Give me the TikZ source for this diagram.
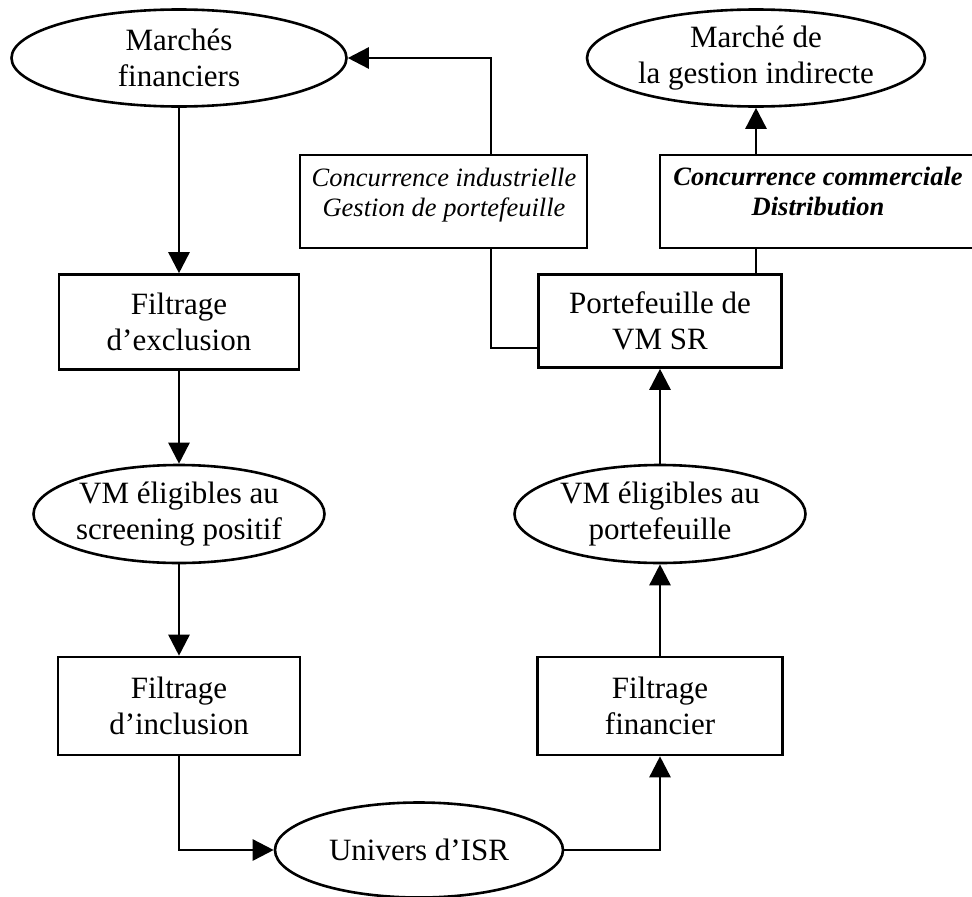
\documentclass[tikz,border=0pt]{standalone}
\usepackage{fontspec}
\setmainfont{Liberation Serif}
\usetikzlibrary{shapes.geometric,arrows.meta,calc}
\begin{document}
\begin{tikzpicture}[x=1pt,y=-1pt,
  ln/.style={line width=2.6pt},
  arr/.style={ln,-{Triangle[length=21pt,width=21pt]}},
  ell/.style={ellipse,draw,ln,inner sep=0pt,align=center,font=\fontsize{31}{36}\selectfont},
  box/.style={rectangle,draw,ln,inner sep=0pt,align=center,font=\fontsize{31}{36}\selectfont},
  itxt/.style={align=center,inner sep=0pt,font=\fontsize{26.5}{30}\selectfont\itshape},
  bitxt/.style={align=center,inner sep=0pt,font=\fontsize{26.5}{30}\selectfont\bfseries\itshape},
]
\useasboundingbox (0,0) rectangle (972,897);
\clip (0,0) rectangle (972,897);

\node[ell,minimum width=335,minimum height=97] (mf) at (179,58) {Marchés\\financiers};
\node[ell,minimum width=338,minimum height=97] (mgi) at (756,58) {Marché de\\la gestion indirecte};
\node[box,minimum width=240,minimum height=95] (fe) at (179,322) {Filtrage\\d’exclusion};
\node[ell,minimum width=290,minimum height=98] (vsp) at (179,514) {VM éligibles au\\screening positif};
\node[box,minimum width=242,minimum height=98] (fi) at (179,706) {Filtrage\\d’inclusion};
\node[ell,minimum width=288,minimum height=95] (uisr) at (419,850) {Univers d’ISR};
\node[box,minimum width=245,minimum height=98] (ff) at (660,706) {Filtrage\\financier};
\node[ell,minimum width=291,minimum height=98] (vp) at (660,514) {VM éligibles au\\portefeuille};
\node[box,minimum width=243,minimum height=93] (pf) at (660,321) {Portefeuille de\\VM SR};
\node[box,minimum width=287,minimum height=93] (ci) at (443.5,201.5) {};
\node[itxt] (cit) at (444,195) {Concurrence industrielle\\Gestion de portefeuille};
\node[box,minimum width=330,minimum height=93] (cc) at (825,201.5) {};
\node[bitxt] (cct) at (818,191) {Concurrence commerciale\\Distribution};

\coordinate (cix) at (491,58);

\draw[arr] (mf) -- (fe);
\draw[arr] (fe) -- (vsp);
\draw[arr] (vsp) -- (fi);
\draw[arr] (fi.south) |- (uisr.west);
\draw[arr] (uisr.east) -| (ff.south);
\draw[arr] (ff) -- (vp);
\draw[arr] (vp) -- (pf);
\draw[ln] ($(pf.south west)+(0,-21)$) -| (ci.south -| cix);
\draw[arr] (ci.north -| cix) |- (mf.east);
\draw[ln] (pf.north -| mgi.south) -- (cc.south -| mgi.south);
\draw[arr] (cc.north -| mgi.south) -- (mgi.south);
\end{tikzpicture}
\end{document}
